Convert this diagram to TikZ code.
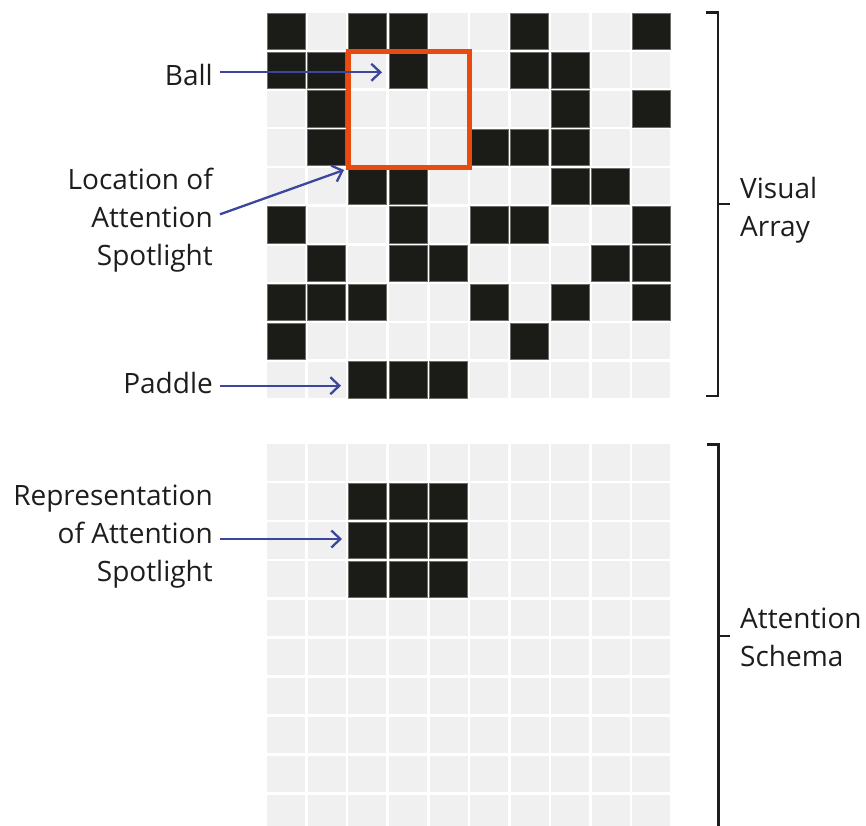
\documentclass[tikz,border=0pt]{standalone}
\usepackage{fontspec}
\setmainfont{Open Sans}
\usetikzlibrary{arrows.meta}
\definecolor{cellgray}{HTML}{F0F0F0}
\definecolor{cellblack}{HTML}{1B1B17}
\definecolor{celledge}{HTML}{6E6E6A}
\definecolor{spotred}{HTML}{E84A10}
\definecolor{arrowblue}{HTML}{3B469E}
\definecolor{inkblack}{HTML}{1D1D1B}
\tikzset{
  lbl/.style={font=\fontsize{28}{38}\selectfont, text=inkblack, inner xsep=7pt, inner ysep=0pt},
  arr/.style={draw=arrowblue, line width=2.3pt, -{Straight Barb[length=9pt,width=17pt]}},
  bracket/.style={draw=inkblack, line width=2.7pt},
  lightcell/.style={fill=cellgray},
  darkcell/.style={fill=cellblack, draw=celledge, line width=0.8pt},
  spot/.style={draw=spotred, line width=5pt, miter limit=10}
}
\newcommand{\cw}{38}
\newcommand{\chh}{36.3}
\newcommand{\cpx}{40.55}
\begin{document}
\begin{tikzpicture}[x=1pt,y=-1pt]
\useasboundingbox (0,0) rectangle (866,825);
\begin{scope}
\clip (0,0) rectangle (866,825);
% top grid (visual array)
\foreach \r in {0,...,9}{
  \foreach \c in {0,...,9}{
    \fill[lightcell] (267.3+\c*\cpx,13.3+\r*38.7) rectangle ++(\cw,\chh);
  }
}
\foreach \r/\cols in {0/{0,2,3,6,9},1/{0,1,3,6,7},2/{1,7,9},3/{1,5,6,7},4/{2,3,7,8},5/{0,3,5,6,9},6/{1,3,4,8,9},7/{0,1,2,5,7,9},8/{0,6},9/{2,3,4}}{
  \foreach \c in \cols{
    \filldraw[darkcell] (267.3+\c*\cpx,13.3+\r*38.7) rectangle ++(\cw,\chh);
  }
}
% bottom grid (attention schema)
\foreach \r in {0,...,9}{
  \foreach \c in {0,...,9}{
    \fill[lightcell] (267.3+\c*\cpx,444.3+\r*38.95) rectangle ++(\cw,\chh);
  }
}
\foreach \r in {1,2,3}{
  \foreach \c in {2,3,4}{
    \filldraw[darkcell] (267.3+\c*\cpx,444.3+\r*38.95) rectangle ++(\cw,\chh);
  }
}
% attention spotlight
\draw[spot] (348,51.5) rectangle (469,167.5);
% brackets
\draw[bracket] (706,12.7) -- (718,12.7) -- (718,396) -- (706,396);
\draw[bracket] (718,204) -- (729.5,204);
\draw[bracket] (707,444.3) -- (718.3,444.3) -- (718.3,830);
\draw[bracket] (718.3,636) -- (729.5,636);
\end{scope}
% labels
\node[lbl, anchor=base east] (ball) at (220,85) {Ball};
\node[lbl, anchor=east, align=right] (loc) at (220,220.1) {\strut Location of\\\strut Attention\\\strut Spotlight};
\node[lbl, anchor=base east] (paddle) at (220,393.3) {Paddle};
\node[lbl, anchor=east, align=right] (rep) at (220,535.7) {\strut Representation\\\strut of Attention\\\strut Spotlight};
\node[lbl, anchor=west, align=left] (visual) at (733,209.4) {\strut Visual\\\strut Array};
\node[lbl, anchor=west, align=left] (schema) at (733,639.4) {\strut Attention\\\strut Schema};
% arrows
\coordinate (balltip) at (382,72.3);
\coordinate (loctip) at (344,170);
\coordinate (paddletip) at (341,385.7);
\coordinate (reptip) at (342,539);
\draw[arr] (ball.east |- balltip) -- (balltip);
\draw[arr] (loc.east |- 0,214.3) -- (loctip);
\draw[arr] (paddle.east |- paddletip) -- (paddletip);
\draw[arr] (rep.east |- reptip) -- (reptip);
\end{tikzpicture}
\end{document}
